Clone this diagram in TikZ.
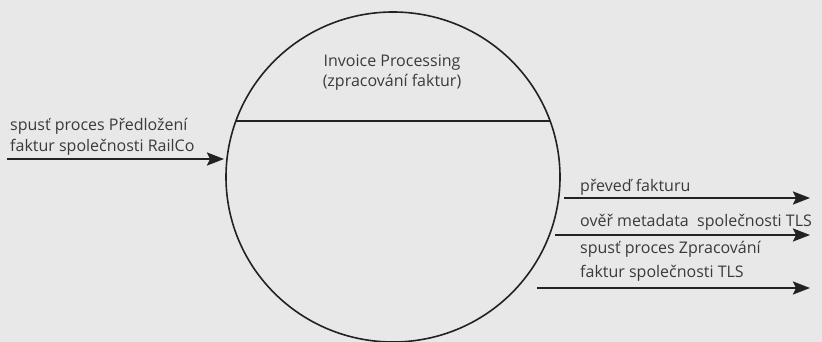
\documentclass[tikz,border=0pt]{standalone}
\usepackage{fontspec}
\setmainfont{Open Sans}[Scale=1]
\usepackage{tikz}
\usetikzlibrary{arrows.meta}
\usetikzlibrary{positioning}
\usetikzlibrary{shapes.geometric}
\definecolor{bggray}{HTML}{E8E8E8}
\definecolor{inkgray}{HTML}{222222}
\definecolor{txtgray}{HTML}{3A3A3A}
\tikzset{
    flow/.style={draw=inkgray, line width=2.2pt, -{Stealth[length=17pt,width=13pt,inset=3pt]}},
    bubble/.style={draw=inkgray, line width=1.6pt, ellipse, inner sep=0pt},
    lbl/.style={text=txtgray, font=\fontsize{16}{21}\selectfont, align=left, inner sep=0pt},
    title/.style={text=txtgray, font=\fontsize{16}{20}\selectfont, align=center, inner sep=0pt},
}

\begin{document}
\begin{tikzpicture}[x=1pt, y=-1pt]
\useasboundingbox[fill=bggray] (0,0) rectangle (822,342);
% process
\node[bubble, minimum width=334pt, minimum height=330pt] (proc) at (393,177) {};
\coordinate (chordL) at (236,121);
\coordinate (chordR) at (550,121);
\draw[draw=inkgray, line width=1.6pt] (chordL) -- (chordR);
\node[title, anchor=base] (name) at (392,87) {Invoice Processing\\(zpracování faktur)};
% incoming
\coordinate (inS) at (7,159);
\coordinate (inE) at (224,159);
\draw[flow] (inS) -- (inE);
\node[lbl, anchor=base west] (inTxt) at (10,152) {spusť proces Předložení\\faktur společnosti RailCo};
% outgoing
\coordinate (outAS) at (564,198);
\coordinate (outAE) at (810,198);
\coordinate (outBS) at (555,235);
\coordinate (outBE) at (810,235);
\coordinate (outCS) at (537,288);
\coordinate (outCE) at (810,288);
\draw[flow] (outAS) -- (outAE);
\draw[flow] (outBS) -- (outBE);
\draw[flow] (outCS) -- (outCE);
\node[lbl, anchor=base west] (outATxt) at (580,191) {převeď fakturu};
\node[lbl, anchor=base west] (outBTxt) at (580,226) {ověř metadata\ \ společnosti TLS};
\node[lbl, anchor=base west, font=\fontsize{16}{24}\selectfont] (outCTxt) at (580,277) {spusť proces Zpracování\\faktur společnosti TLS};
\end{tikzpicture}
\end{document}
